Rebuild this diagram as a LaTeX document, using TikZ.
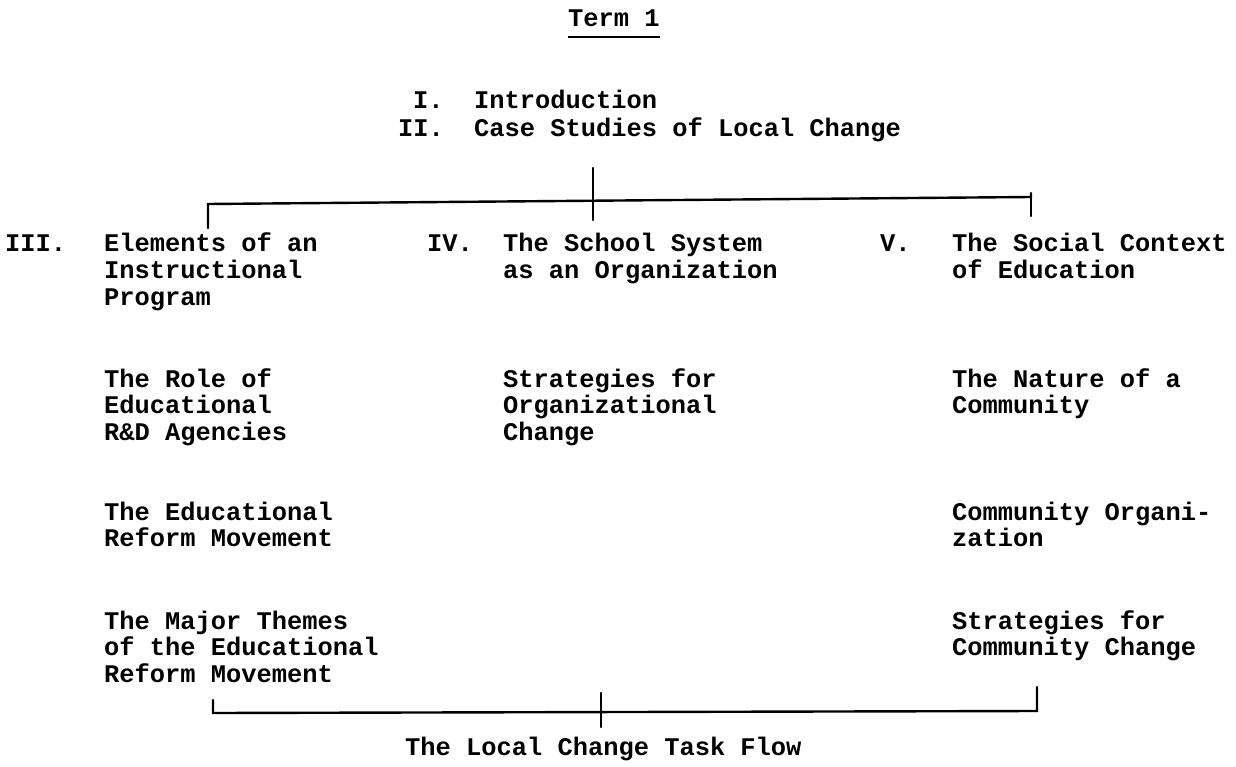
\documentclass[tikz,border=0pt]{standalone}
\usepackage{fontspec}
\setmonofont{Liberation Mono}
\newcommand\tstack[1]{\vtop{\halign{##\hfil\cr#1\crcr}}}
\begin{document}
\begin{tikzpicture}[x=1pt,y=-1pt,
  tw/.style={inner sep=0pt,anchor=base west,
    font=\ttfamily\bfseries\fontsize{25.4}{26.8}\selectfont},
  rule/.style={line width=2.4pt,line cap=round}]
\useasboundingbox (0,0) rectangle (1236,767);

% title
\node[tw] (term) at (568,27) {Term 1};
\draw[line width=1.8pt] (term.base west)++(0,10) coordinate (ulA) -- (ulA -| term.base east);

% opening units
\node[tw] (u1) at (413,109) {I.};
\node[tw] (t1) at (474,109) {Introduction};
\node[tw] (u2) at (398,137) {II.};
\node[tw] (t2) at (474,137) {Case Studies of Local Change};

% column headings
\node[tw] (u3) at (5,252) {III.};
\node[tw] (c1a) at (104,252) {\tstack{Elements of an\cr Instructional\cr Program}};
\node[tw] (u4) at (427,252) {IV.};
\node[tw] (c2a) at (503,252) {\tstack{The School System\cr as an Organization}};
\node[tw] (u5) at (880,252) {V.};
\node[tw] (c3a) at (952,252) {\tstack{The Social Context\cr of Education}};

% column 1 topics
\node[tw] (c1b) at (104,387) {\tstack{The Role of\cr Educational\cr R\&D Agencies}};
\node[tw] (c1c) at (104,520) {\tstack{The Educational\cr Reform Movement}};
\node[tw] (c1d) at (104,629) {\tstack{The Major Themes\cr of the Educational\cr Reform Movement}};

% column 2 topics
\node[tw] (c2b) at (503,387) {\tstack{Strategies for\cr Organizational\cr Change}};

% column 3 topics
\node[tw] (c3b) at (952,387) {\tstack{The Nature of a\cr Community}};
\node[tw] (c3c) at (952,520) {\tstack{Community Organi-\cr zation}};
\node[tw] (c3d) at (952,629) {\tstack{Strategies for\cr Community Change}};

% closing label
\node[tw] (flow) at (405,755) {The Local Change Task Flow};

% upper bracket: branches from the introduction to the three columns
\coordinate (tTop) at (593,168);
\coordinate (tBot) at (593,220);
\coordinate (tL) at (208,204);
\coordinate (tLd) at (208,228);
\coordinate (tR) at (1031,197);
\coordinate (tRd) at (1031,216);
\coordinate (tRu) at (1031,193);
\draw[rule] (tLd) -- (tL) -- (tR) -- (tRu);
\draw[rule] (tR) -- (tRd);
\draw[rule] (tTop) -- (tBot);

% lower bracket: columns merging into the task flow
\coordinate (bL) at (213,713);
\coordinate (bLu) at (213,700);
\coordinate (bR) at (1037,711);
\coordinate (bRu) at (1037,687);
\coordinate (bTop) at (601,693);
\coordinate (bBot) at (601,727);
\draw[rule] (bLu) -- (bL) -- (bR) -- (bRu);
\draw[rule] (bTop) -- (bBot);
\end{tikzpicture}
\end{document}
